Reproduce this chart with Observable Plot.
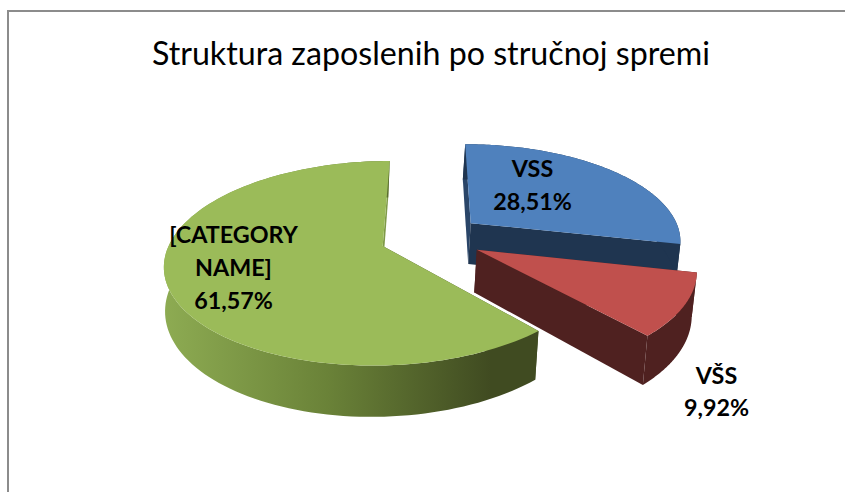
<!DOCTYPE html>
<html>
<head>
<meta charset="utf-8">
<script src="https://cdn.jsdelivr.net/npm/d3@7"></script>
<script src="https://cdn.jsdelivr.net/npm/@observablehq/plot@0.6"></script>
<style>
html,body{margin:0;padding:0;background:#fff;overflow:hidden}
#frame{position:absolute;left:7px;top:10px;width:838px;height:482px;border-top:2px solid #8c8c8c;border-left:2px solid #8c8c8c;box-sizing:border-box}
#title{position:absolute;left:0;top:33px;width:862px;text-align:center;font:32.2px Lato,sans-serif;color:#000;white-space:nowrap}
#chart{position:absolute;left:0;top:92px}
</style>
</head>
<body>
<div id="frame"></div>
<div id="title">Struktura zaposlenih po stručnoj spremi</div>
<div id="chart"></div>
<script>
const categories = ["VSS", "VŠS", "[CATEGORY\nNAME]"];
const shares = [28.51, 9.92, 61.57];
const shareLabels = ["28,51%", "9,92%", "61,57%"];
const topColors = ["#4f81bd", "#c0504d", "#9bbb59"];
const wallColors = ["#1f3550", "#4f2120", "url(#greenWall)"];
const nearSideColors = ["#2a4568", "#4f2120", "#404b21"];
const farSideColors = ["#1f3550", "#4f2120", "#7f9a48"];
const labelX = [532, 716, 233];
const labelY = [182.5, 389, 265];

// Camera of the tilted, exploded 3D pie
const cam = {x0: 431, y0: 237, R: 211, K: 96.5, p: 1/6, D: 42, shrink: 0.012, shift: -2, explode: 0.244};
const project = (u, v, z) => {
  const w = 1 - cam.p * v;
  return {
    x: cam.x0 + cam.R * u / w * (1 - cam.shrink * z) + cam.shift * z,
    y: cam.y0 + cam.K * v / w + cam.D * z / w
  };
};

const total = d3.sum(shares);
let acc = 0;
const slices = shares.map((s, i) => {
  const a0 = acc / total * 2 * Math.PI;
  acc += s;
  const a1 = acc / total * 2 * Math.PI;
  const mid = (a0 + a1) / 2;
  return {i, a0, a1, ou: cam.explode * Math.sin(mid), ov: -cam.explode * Math.cos(mid)};
});
const rimPt = (s, t, z) => project(s.ou + Math.sin(t), s.ov - Math.cos(t), z);
const apex = (s, z) => project(s.ou, s.ov, z);
const arc = (s, z, rev) => {
  const ts = d3.range(0, 121).map(k => s.a0 + (s.a1 - s.a0) * k / 120);
  if (rev) ts.reverse();
  return ts.map(t => rimPt(s, t, z));
};

const face = (pts, fill) => Plot.line(pts, {x: "x", y: "y", fill, stroke: "none", curve: "linear-closed"});

const marks = [
  () => {
    const defs = d3.create("svg:defs");
    const g = defs.append("linearGradient").attr("id", "greenWall")
      .attr("gradientUnits", "userSpaceOnUse")
      .attr("x1", 165).attr("x2", 490).attr("y1", 0).attr("y2", 0);
    g.append("stop").attr("offset", "0").attr("stop-color", "#8dab52");
    g.append("stop").attr("offset", "0.5").attr("stop-color", "#6a8238");
    g.append("stop").attr("offset", "1").attr("stop-color", "#404b21");
    return defs.node();
  }
];
for (const s of slices) {
  const a = apex(s, 0), b = apex(s, 1);
  marks.push(face([a, rimPt(s, s.a0, 0), rimPt(s, s.a0, 1), b], nearSideColors[s.i]));
  marks.push(face([a, rimPt(s, s.a1, 0), rimPt(s, s.a1, 1), b], farSideColors[s.i]));
  marks.push(face([...arc(s, 0, false), ...arc(s, 1, true)], wallColors[s.i]));
  marks.push(face([a, ...arc(s, 0, false)], topColors[s.i]));
}
marks.push(Plot.text(categories.map((c, i) => i), {
  x: i => labelX[i],
  y: i => labelY[i],
  text: i => categories[i] + "\n" + shareLabels[i],
  fontFamily: "Lato, sans-serif",
  fontWeight: 700,
  fontSize: 23.3,
  lineHeight: 1.41,
  fill: "#000",
  textAnchor: "middle",
  lineAnchor: "middle"
}));

const plotTop = 92, W = 845, H = 400;
const chart = Plot.plot({
  width: W, height: H,
  margin: 0,
  x: {domain: [0, W], range: [0, W], axis: null},
  y: {domain: [plotTop, plotTop + H], range: [0, H], axis: null},
  style: {background: "transparent"},
  marks
});
document.getElementById("chart").append(chart);
</script>
</body>
</html>
